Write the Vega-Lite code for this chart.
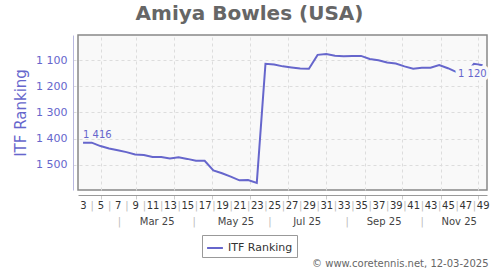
{
  "$schema": "https://vega.github.io/schema/vega-lite/v6.json",
  "width": 409,
  "height": 155,
  "autosize": {"type": "none"},
  "padding": {"left": 78, "top": 35, "right": 13, "bottom": 80},
  "title": {"text": "Amiya Bowles (USA)", "fontSize": 20, "fontWeight": "bold", "color": "#666666", "dx": -33, "offset": 11},
  "config": {
    "font": "DejaVu Sans",
    "view": {"fill": "#f9f9f9", "stroke": "#888888", "strokeWidth": 1.5},
    "axisY": {
      "labelOverlap": false,
      "grid": true, "gridDash": [3, 3], "gridColor": "#dddddd",
      "ticks": false, "domainColor": "#b8b8e0", "offset": 5,
      "labelColor": "#6666cc", "labelFontSize": 11, "labelPadding": 6,
      "titleColor": "#6666cc", "titleFontSize": 15,
      "titleFontWeight": "normal", "titlePadding": 7
    }
  },
  "data": {
    "values": [
      {"week": 3, "rank": 1416, "label": "1 416"}, {"week": 4, "rank": 1416}, {"week": 5, "rank": 1429},
      {"week": 6, "rank": 1438}, {"week": 7, "rank": 1445}, {"week": 8, "rank": 1452},
      {"week": 9, "rank": 1461}, {"week": 10, "rank": 1463}, {"week": 11, "rank": 1471},
      {"week": 12, "rank": 1471}, {"week": 13, "rank": 1476}, {"week": 14, "rank": 1472},
      {"week": 15, "rank": 1478}, {"week": 16, "rank": 1485}, {"week": 17, "rank": 1485},
      {"week": 18, "rank": 1522}, {"week": 19, "rank": 1533}, {"week": 20, "rank": 1546},
      {"week": 21, "rank": 1560}, {"week": 22, "rank": 1559}, {"week": 23, "rank": 1570},
      {"week": 24, "rank": 1114}, {"week": 25, "rank": 1117}, {"week": 26, "rank": 1124},
      {"week": 27, "rank": 1128}, {"week": 28, "rank": 1132}, {"week": 29, "rank": 1133},
      {"week": 30, "rank": 1080}, {"week": 31, "rank": 1077}, {"week": 32, "rank": 1083},
      {"week": 33, "rank": 1085}, {"week": 34, "rank": 1084}, {"week": 35, "rank": 1084},
      {"week": 36, "rank": 1096}, {"week": 37, "rank": 1101}, {"week": 38, "rank": 1109},
      {"week": 39, "rank": 1113}, {"week": 40, "rank": 1124}, {"week": 41, "rank": 1133},
      {"week": 42, "rank": 1129}, {"week": 43, "rank": 1129}, {"week": 44, "rank": 1119},
      {"week": 45, "rank": 1131}, {"week": 46, "rank": 1146}, {"week": 47, "rank": 1153},
      {"week": 48, "rank": 1114}, {"week": 49, "rank": 1120, "label": "1 120"}
    ]
  },
  "layer": [
    {
      "mark": {"type": "line", "strokeWidth": 2},
      "encoding": {
        "x": {
          "field": "week", "type": "quantitative",
          "scale": {"domain": [2.42, 49.5], "nice": false, "zero": false},
          "axis": {
            "orient": "bottom",
            "values": [5.12, 9.14, 13.47, 17.89, 22.22, 26.59, 30.96, 35.5, 39.75, 44.2, 48.45],
            "labels": false, "ticks": true, "tickSize": 4, "tickColor": "#cccccc",
            "grid": true, "gridDash": [3, 3], "gridColor": "#dddddd",
            "domain": true, "domainColor": "#999999", "offset": 5, "title": null
          }
        },
        "y": {
          "field": "rank", "type": "quantitative",
          "scale": {"domain": [1004, 1597], "reverse": true, "nice": false, "zero": false},
          "axis": {
            "values": [1100, 1200, 1300, 1400, 1500],
            "labelExpr": "replace(format(datum.value, ','), ',', ' ')",
            "labelOverlap": false, "title": "ITF Ranking"
          }
        },
        "color": {
          "datum": "ITF Ranking",
          "scale": {"range": ["#6666cc"]},
          "legend": {
            "title": null, "orient": "none", "legendX": 124, "legendY": 200,
            "symbolType": "stroke", "symbolStrokeWidth": 2, "symbolSize": 250,
            "labelFontSize": 11, "labelColor": "#333333",
            "strokeColor": "#999999", "fillColor": "#ffffff", "padding": 4
          }
        }
      }
    },
    {
      "transform": [{"filter": "datum.week == 3"}],
      "mark": {"type": "text", "align": "left", "baseline": "bottom", "dy": -3, "fontSize": 10, "color": "#6666cc"},
      "encoding": {
        "x": {
          "field": "week", "type": "quantitative",
          "axis": {
            "orient": "bottom",
            "values": [3, 4, 5, 6, 7, 8, 9, 10, 11, 12, 13, 14, 15, 16, 17, 18, 19, 20, 21, 22, 23, 24, 25, 26, 27, 28, 29, 30, 31, 32, 33, 34, 35, 36, 37, 38, 39, 40, 41, 42, 43, 44, 45, 46, 47, 48, 49],
            "labelExpr": "datum.value % 2 == 1 ? datum.label : '|'",
            "labelColor": {"condition": {"test": "datum.value % 2 == 0", "value": "#bbbbbb"}, "value": "#333333"},
            "labelFontSize": 10, "labelPadding": 5, "labelFlush": false, "labelOverlap": false, "labelBound": false,
            "ticks": false, "domain": false, "grid": false, "offset": 5, "title": null
          }
        },
        "y": {
          "field": "rank", "type": "quantitative",
          "axis": {
            "values": [1100, 1200, 1300, 1400, 1500],
            "labelExpr": "replace(format(datum.value, ','), ',', ' ')",
            "labelOverlap": false, "title": "ITF Ranking"
          }
        },
        "text": {"field": "label", "type": "nominal"}
      }
    },
    {
      "transform": [{"filter": "datum.week == 49"}],
      "mark": {"type": "text", "align": "right", "baseline": "top", "dx": 4, "dy": 4, "fontSize": 10, "color": "#f9f9f9", "stroke": "#f9f9f9", "strokeWidth": 7},
      "encoding": {
        "x": {
          "field": "week", "type": "quantitative",
          "axis": {
            "orient": "bottom",
            "values": [7.12, 11.48, 15.74, 20.54, 24.47, 28.74, 33.34, 37.6, 41.97, 46.24],
            "labelExpr": "datum.value < 8 ? '|' : datum.value < 12 ? 'Mar 25' : datum.value < 16 ? '|' : datum.value < 21 ? 'May 25' : datum.value < 25 ? '|' : datum.value < 29 ? 'Jul 25' : datum.value < 34 ? '|' : datum.value < 38 ? 'Sep 25' : datum.value < 42 ? '|' : 'Nov 25'",
            "labelColor": {"condition": {"test": "datum.value < 8 || (datum.value > 15 && datum.value < 16) || (datum.value > 24 && datum.value < 25) || (datum.value > 33 && datum.value < 34) || (datum.value > 41 && datum.value < 42)", "value": "#bbbbbb"}, "value": "#444444"},
            "labelFontSize": 10, "labelPadding": 21, "labelFlush": false, "labelOverlap": false, "labelBound": false,
            "ticks": false, "domain": false, "grid": false, "offset": 5,
            "title": "© www.coretennis.net, 12-03-2025",
            "titleX": 410, "titleY": 71, "titleAlign": "right", "titleBaseline": "alphabetic",
            "titleFontSize": 10, "titleFontWeight": "normal", "titleColor": "#666666"
          }
        },
        "y": {
          "field": "rank", "type": "quantitative",
          "axis": {
            "values": [1100, 1200, 1300, 1400, 1500],
            "labelExpr": "replace(format(datum.value, ','), ',', ' ')",
            "labelOverlap": false, "title": "ITF Ranking"
          }
        },
        "text": {"field": "label", "type": "nominal"}
      }
    },
    {
      "transform": [{"filter": "datum.week == 49"}],
      "mark": {"type": "text", "align": "right", "baseline": "top", "dx": 4, "dy": 4, "fontSize": 10, "color": "#6666cc"},
      "encoding": {
        "x": {"field": "week", "type": "quantitative", "axis": null},
        "y": {
          "field": "rank", "type": "quantitative",
          "axis": {
            "values": [1100, 1200, 1300, 1400, 1500],
            "labelExpr": "replace(format(datum.value, ','), ',', ' ')",
            "labelOverlap": false, "title": "ITF Ranking"
          }
        },
        "text": {"field": "label", "type": "nominal"}
      }
    }
  ],
  "resolve": {"axis": {"x": "independent"}}
}
